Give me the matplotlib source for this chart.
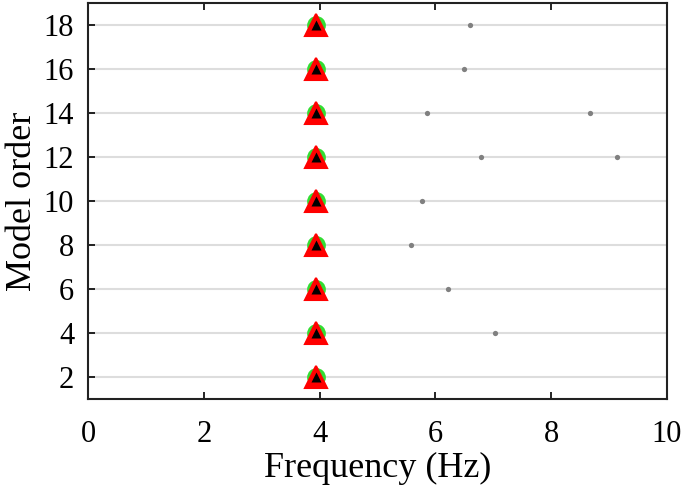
import matplotlib
matplotlib.use('Agg')
import matplotlib.pyplot as plt
import numpy as np

plt.rcParams['font.family'] = ['Liberation Serif', 'DejaVu Serif']

# stable poles (all orders)
orders = [2, 4, 6, 8, 10, 12, 14, 16, 18]
stable_freq = [3.94, 3.94, 3.94, 3.94, 3.94, 3.94, 3.94, 3.94, 3.94]

# other (unstable) poles
other_order = [4, 6, 8, 10, 12, 12, 14, 14, 16, 18]
other_freq = [7.03, 6.22, 5.58, 5.77, 6.79, 9.14, 5.86, 8.67, 6.49, 6.60]

fig = plt.figure(figsize=(6.85, 4.88), dpi=100)
ax = fig.add_axes([0.1285, 0.1824, 0.8452, 0.8115])

ax.grid(axis='y', color='#dddddd', linewidth=1.5, zorder=0)
ax.set_axisbelow(True)

ax.plot(other_freq, other_order, 'o', color='#808080', ms=3.8, mec='none', zorder=3)
ax.plot(stable_freq, orders, 'o', color='#33dd33', ms=13.5, mec='none', zorder=4)
ax.plot(stable_freq, orders, '^', color='red', ms=16, mec='red', mew=1.5, zorder=5)
ax.plot(stable_freq, orders, '^', color='black', ms=7, mec='none', zorder=6)

ax.set_xlim(0, 10)
ax.set_ylim(1, 19)
ax.set_xticks(np.arange(0, 11, 2))
ax.set_yticks(np.arange(2, 19, 2))
ax.tick_params(direction='in', top=True, right=False, length=5, width=1.2,
               labelsize=22, colors='black')
ax.tick_params(axis='x', pad=15)
ax.tick_params(axis='y', pad=10)
for s in ax.spines.values():
    s.set_linewidth(1.5)
    s.set_color('#222222')

ax.set_xlabel('Frequency (Hz)', fontsize=26, labelpad=2)
ax.set_ylabel('Model order', fontsize=26, labelpad=3)

fig.savefig('out.png', dpi=100)
